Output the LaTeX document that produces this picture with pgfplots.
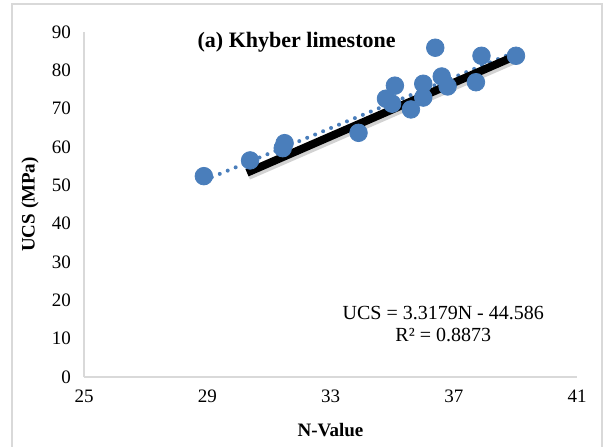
\documentclass[border=0pt]{standalone}
\usepackage{pgfplots}
\pgfplotsset{compat=1.18}
\usepackage{fontspec}
\setmainfont{Liberation Serif}
\definecolor{ptblue}{HTML}{4A7EBB}
\definecolor{axgrey}{HTML}{D9D9D9}
\begin{document}
\begin{tikzpicture}
\path[use as bounding box] (0,0) rectangle (302.5pt,223pt);
\draw[axgrey, line width=0.8pt] (6pt,-5pt) -- (6pt,221pt) -- (301pt,221pt) -- (301pt,-5pt);
\begin{axis}[
  at={(42pt,34.5pt)}, anchor=origin,
  scale only axis, width=246.5pt, height=172.5pt,
  xmin=25, xmax=41, ymin=0, ymax=90,
  xtick={25,29,33,37,41}, ytick={0,10,...,90},
  axis x line=bottom, axis y line=left,
  axis line style={axgrey, line width=0.8pt, -},
  major tick length=0pt,
  tick label style={font=\fontsize{9.5}{11}\selectfont, black},
  /pgf/number format/assume math mode=true,
  xticklabel style={yshift=-3pt},
  yticklabel style={xshift=-3pt},
  xlabel={\textbf{N-Value}},
  ylabel={\textbf{UCS (MPa)}},
  label style={font=\fontsize{9.5}{11}\selectfont},
  xlabel style={at={(axis description cs:0.5,-0.154)}, anchor=center},
  ylabel style={at={(axis description cs:-0.1095,0.5)}, anchor=center, rotate=0},
  clip=false,
]
% dotted trendline
\addplot[ptblue, line width=2pt, dash pattern=on 0pt off 4.3pt, line cap=round] coordinates {(28.89,51.27) (39.02,84.88)};
% data points
\addplot[only marks, mark=*, mark size=4.4pt, mark options={fill=ptblue, draw=ptblue}] coordinates {
(28.89,52.4) (30.39,56.5) (31.51,61.0) (31.45,59.7) (33.91,63.7)
(34.80,72.6) (35.09,76.0) (35.00,71.3) (35.61,69.8) (36.01,76.5)
(36.01,72.9) (36.40,85.9) (36.61,78.4) (36.80,75.8) (37.72,76.9)
(37.90,83.8) (39.02,83.8)
};
% shadow and thick black line
\addplot[black!35, opacity=0.5, line width=4.5pt, forget plot] coordinates {(30.33,52.6) (38.91,82.6)};
\addplot[black, line width=4pt] coordinates {(30.29,53.3) (38.87,83.3)};
\node[font=\bfseries\fontsize{11}{13}\selectfont] at (axis cs:31.9,87.2) {(a) Khyber limestone};
\node[font=\fontsize{10}{12}\selectfont] at (axis cs:36.66,16.7) {UCS = 3.3179N - 44.586};
\node[font=\fontsize{10}{12}\selectfont] at (axis cs:36.66,11.0) {R² = 0.8873};
\end{axis}
\end{tikzpicture}
\end{document}
